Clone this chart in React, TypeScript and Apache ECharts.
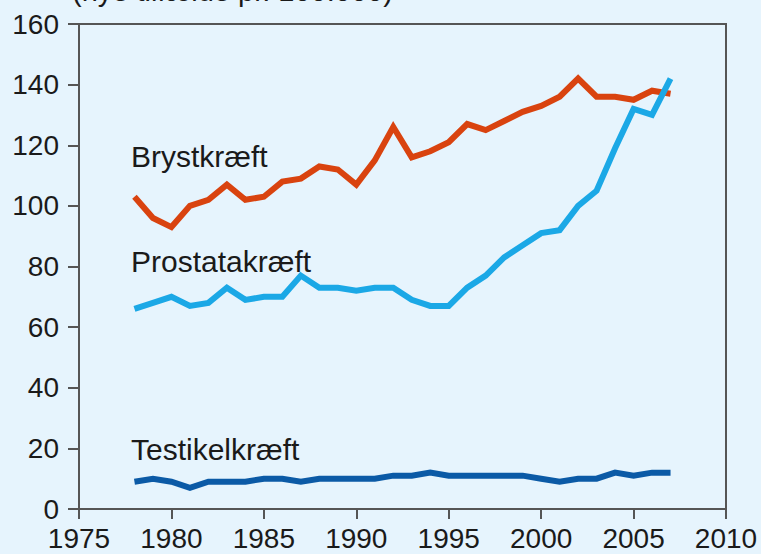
import React, { useEffect, useRef } from "react";
import * as echarts from "echarts";

const years = [1978, 1979, 1980, 1981, 1982, 1983, 1984, 1985, 1986, 1987, 1988, 1989, 1990, 1991, 1992, 1993, 1994, 1995, 1996, 1997, 1998, 1999, 2000, 2001, 2002, 2003, 2004, 2005, 2006, 2007];
const bryst = [103, 96, 93, 100, 102, 107, 102, 103, 108, 109, 113, 112, 107, 115, 126, 116, 118, 121, 127, 125, 128, 131, 133, 136, 142, 136, 136, 135, 138, 137];
const prostata = [66, 68, 70, 67, 68, 73, 69, 70, 70, 77, 73, 73, 72, 73, 73, 69, 67, 67, 73, 77, 83, 87, 91, 92, 100, 105, 119, 132, 130, 142];
const testikel = [9, 10, 9, 7, 9, 9, 9, 10, 10, 9, 10, 10, 10, 10, 11, 11, 12, 11, 11, 11, 11, 11, 10, 9, 10, 10, 12, 11, 12, 12];
const seriesNames = ["Brystkræft", "Prostatakræft", "Testikelkræft"];
const titleText = "(nye tilfælde pr. 100.000)";

const FONT = "'Liberation Sans', Arial, Helvetica, sans-serif";

export default function App() {
  const ref = useRef<HTMLDivElement>(null);
  useEffect(() => {
    if (!ref.current) return;
    const chart = echarts.init(ref.current, null, { renderer: "svg" });
    const mk = (vals: number[]) => years.map((y, i) => [y, vals[i]]);
    const lineSeries = (name: string, vals: number[], color: string) => ({
      name,
      type: "line",
      data: mk(vals),
      symbol: "none",
      lineStyle: { color, width: 6, join: "miter" },
      itemStyle: { color },
    });
    chart.setOption({
      animation: false,
      backgroundColor: "#e6f4fd",
      textStyle: { fontFamily: FONT },
      grid: {
        left: 79,
        right: 35,
        top: 24,
        bottom: 45,
        show: true,
        borderColor: "#555",
        borderWidth: 2,
        backgroundColor: "transparent",
      },
      xAxis: {
        type: "value",
        min: 1975,
        max: 2010,
        interval: 5,
        axisLine: { show: true, lineStyle: { color: "#555", width: 2 } },
        axisTick: { show: true, length: 10, lineStyle: { color: "#555", width: 2 } },
        splitLine: { show: false },
        axisLabel: { color: "#1a1a1a", fontSize: 28, fontFamily: FONT, margin: 15, formatter: (v: number) => String(v) },
      },
      yAxis: {
        type: "value",
        min: 0,
        max: 160,
        interval: 20,
        axisLine: { show: true, lineStyle: { color: "#555", width: 2 } },
        axisTick: { show: true, length: 11, lineStyle: { color: "#555", width: 2 } },
        splitLine: { show: false },
        axisLabel: { color: "#1a1a1a", fontSize: 28, fontFamily: FONT, margin: 20 },
      },
      graphic: [
        { type: "text", left: 72, top: -24, style: { text: titleText, fontSize: 29, fontFamily: FONT, fill: "#1a1a1a" } },
        { type: "text", left: 131, top: 141, style: { text: seriesNames[0], fontSize: 30, fontFamily: FONT, fill: "#1a1a1a" } },
        { type: "text", left: 131, top: 246, style: { text: seriesNames[1], fontSize: 30, fontFamily: FONT, fill: "#1a1a1a" } },
        { type: "text", left: 131, top: 434, style: { text: seriesNames[2], fontSize: 30, fontFamily: FONT, fill: "#1a1a1a" } },
      ],
      series: [
        lineSeries(seriesNames[0], bryst, "#d9430f"),
        lineSeries(seriesNames[1], prostata, "#1ba8e6"),
        lineSeries(seriesNames[2], testikel, "#0b5aa6"),
      ],
    });
    return () => chart.dispose();
  }, []);
  return <div ref={ref} style={{ width: 761, height: 554, position: "fixed", left: 0, top: 0 }} />;
}
